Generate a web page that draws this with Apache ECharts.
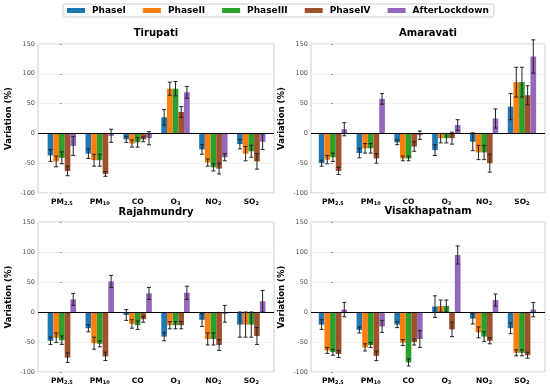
<!DOCTYPE html>
<html><head><meta charset="utf-8">
<script src="https://cdn.jsdelivr.net/npm/echarts@6/dist/echarts.min.js"></script>
<style>html,body{margin:0;padding:0;background:#fff}#c{width:550px;height:385px}</style>
</head><body><div id="c"></div>
<script>
// ---------- DATA ----------
const phases = ['PhaseI', 'PhaseII', 'PhaseIII', 'PhaseIV', 'AfterLockdown'];
const pollutantMain = ['PM', 'PM', 'CO', 'O', 'NO', 'SO'];
const pollutantSub = ['2.5', '10', '', '3', '2', '2'];
const cities = ['Tirupati', 'Amaravati', 'Rajahmundry', 'Visakhapatnam'];
const yTickMin = -100, yTickMax = 150, yTickStep = 50;

// rows = phases, columns = pollutants (PM2.5, PM10, CO, O3, NO2, SO2)
const tirupatiMean = [
  [-37, -34, -10, 27, -27, -18],
  [-47, -45, -17, 75, -49, -34],
  [-41, -45, -15, 75, -57, -30],
  [-63, -68, -10, 36, -59, -47],
  [-21, -4, -8, 69, -40, -14]
];
const tirupatiErr = [
  [10, 8, 5, 13, 8, 8],
  [9, 10, 6, 11, 6, 12],
  [10, 10, 8, 12, 6, 10],
  [8, 4, 4, 9, 9, 13],
  [16, 11, 11, 10, 6, 13]
];
const amaravatiMean = [
  [-50, -33, -15, -28, -14, 45],
  [-44, -25, -42, -8, -32, 86],
  [-40, -25, -42, -8, -32, 86],
  [-63, -42, -22, -8, -50, 64],
  [7, 58, -3, 14, 25, 129]
];
const amaravatiErr = [
  [5, 8, 4, 9, 15, 22],
  [7, 8, 4, 8, 12, 25],
  [7, 8, 4, 8, 12, 25],
  [6, 8, 8, 10, 15, 16],
  [11, 9, 7, 9, 16, 28]
];
const rajahmundryMean = [
  [-48, -27, -5, -41, -13, -21],
  [-43, -52, -20, -22, -45, -21],
  [-47, -53, -22, -22, -45, -21],
  [-76, -74, -12, -22, -55, -40],
  [21, 51, 31, 32, -3, 18]
];
const rajahmundryErr = [
  [6, 6, 9, 7, 11, 21],
  [8, 10, 7, 6, 10, 21],
  [7, 5, 7, 6, 10, 21],
  [8, 7, 5, 6, 9, 14],
  [10, 10, 10, 11, 14, 18]
];
const visakhapatnamMean = [
  [-21, -30, -21, 9, -11, -27],
  [-64, -59, -51, 10, -34, -68],
  [-67, -55, -84, 10, -41, -68],
  [-70, -73, -50, -29, -48, -72],
  [4, -24, -45, 95, 20, 4]
];
const visakhapatnamErr = [
  [8, 5, 5, 18, 9, 9],
  [5, 6, 5, 10, 9, 5],
  [5, 4, 6, 10, 8, 5],
  [6, 8, 5, 12, 5, 5],
  [12, 10, 14, 15, 10, 12]
];

// ---------- STYLE / LAYOUT ----------
const cityMeans = [tirupatiMean, amaravatiMean, rajahmundryMean, visakhapatnamMean];
const cityErrs = [tirupatiErr, amaravatiErr, rajahmundryErr, visakhapatnamErr];
const colors = ['#1f77b4', '#ff7f0e', '#2ca02c', '#a0522d', '#9467bd'];
const FONT = 'DejaVu Sans';
const grids = [
  { left: 38, top: 44, width: 236, height: 149 },
  { left: 311, top: 44, width: 234, height: 149 },
  { left: 38, top: 222, width: 236, height: 150 },
  { left: 311, top: 222, width: 234, height: 150 }
];
const xMins = [-0.63, -0.58, -0.63, -0.58];
const xMaxs = [5.6, 5.61, 5.6, 5.61];
const titleTops = [28, 28, 207, 206];
const barCatGap = 0.25;

const chart = echarts.init(document.getElementById('c'), null, { renderer: 'canvas' });

const xAxes = [], yAxes = [], series = [], titles = [];
grids.forEach((g, ci) => {
  titles.push({
    text: cities[ci], left: g.left + g.width / 2, top: titleTops[ci], textAlign: 'center', padding: 0,
    textStyle: { fontFamily: FONT, fontWeight: 'bold', fontSize: 10, color: '#000' }
  });
  xAxes.push({
    type: 'value', gridIndex: ci, min: xMins[ci], max: xMaxs[ci],
    axisLine: { show: false }, axisTick: { show: false }, splitLine: { show: false },
    axisLabel: {
      customValues: [0, 1, 2, 3, 4, 5], margin: 3,
      formatter: function (v) {
        const i = Math.round(v);
        return pollutantSub[i] ? '{m|' + pollutantMain[i] + '}{s|' + pollutantSub[i] + '}' : '{m|' + pollutantMain[i] + '}';
      },
      rich: {
        m: { fontFamily: FONT, fontWeight: 'bold', fontSize: 7.5, color: '#000', verticalAlign: 'bottom', lineHeight: 10 },
        s: { fontFamily: FONT, fontWeight: 'bold', fontSize: 5, color: '#000', verticalAlign: 'bottom', lineHeight: 7 }
      }
    }
  });
  yAxes.push({
    type: 'value', gridIndex: ci, min: yTickMin, max: yTickMax, interval: yTickStep,
    name: 'Variation (%)', nameLocation: 'middle', nameGap: 25, nameRotate: 90,
    nameTextStyle: { fontFamily: FONT, fontWeight: 'bold', fontSize: 8.5, color: '#000' },
    axisLine: { show: false },
    axisTick: { show: true, length: 2, lineStyle: { color: '#999' } },
    axisLabel: { fontFamily: FONT, fontSize: 6.5, color: '#555', margin: 3 },
    splitLine: { show: true, lineStyle: { color: '#f0f0f0', width: 1 } }
  });
  phases.forEach((p, k) => {
    const s = {
      type: 'bar', name: p, xAxisIndex: ci, yAxisIndex: ci,
      barGap: '0%', barCategoryGap: (barCatGap * 100) + '%',
      itemStyle: { color: colors[k] },
      data: cityMeans[ci][k].map((v, i) => [i, v])
    };
    if (k === 0) {
      s.markLine = {
        silent: true, symbol: 'none', label: { show: false },
        lineStyle: { color: '#000', width: 1, type: 'solid' },
        data: [{ yAxis: 0 }], z: 5
      };
    }
    series.push(s);
  });
  const errData = [];
  phases.forEach((p, k) => {
    cityMeans[ci][k].forEach((v, i) => errData.push([i, k, v, cityErrs[ci][k][i]]));
  });
  series.push({
    type: 'custom', xAxisIndex: ci, yAxisIndex: ci, z: 10, silent: true,
    dimensions: ['x', 'k', 'y', 'e'], encode: { x: 0, y: 2 },
    data: errData,
    renderItem: function (params, api) {
      const x = api.value(0), k = api.value(1), m = api.value(2), e = api.value(3);
      const band = api.size([1, 0])[0];
      const bw = band * (1 - barCatGap) / phases.length;
      const cx = api.coord([x, m])[0] + (k - (phases.length - 1) / 2) * bw;
      const yt = api.coord([x, m + e])[1];
      const yb = api.coord([x, m - e])[1];
      const cap = 2;
      const st = { stroke: '#222', lineWidth: 1 };
      return {
        type: 'group', children: [
          { type: 'line', shape: { x1: cx, y1: yt, x2: cx, y2: yb }, style: st },
          { type: 'line', shape: { x1: cx - cap, y1: yt, x2: cx + cap, y2: yt }, style: st },
          { type: 'line', shape: { x1: cx - cap, y1: yb, x2: cx + cap, y2: yb }, style: st }
        ]
      };
    }
  });
});

chart.setOption({
  animation: false,
  backgroundColor: '#fff',
  title: titles,
  legend: {
    data: phases, left: 63, top: 4, icon: 'rect', itemWidth: 18, itemHeight: 5, itemGap: 17,
    padding: [2, 5, 2, 4], borderColor: '#ccc', borderWidth: 1, borderRadius: 2,
    selectedMode: false,
    textStyle: { fontFamily: FONT, fontWeight: 'bold', fontSize: 9, color: '#000', padding: [0, 0, 0, 2] }
  },
  grid: grids.map(g => Object.assign({ show: true, borderColor: '#ccc', borderWidth: 1, containLabel: false }, g)),
  xAxis: xAxes,
  yAxis: yAxes,
  series: series
});
</script>
</body></html>
